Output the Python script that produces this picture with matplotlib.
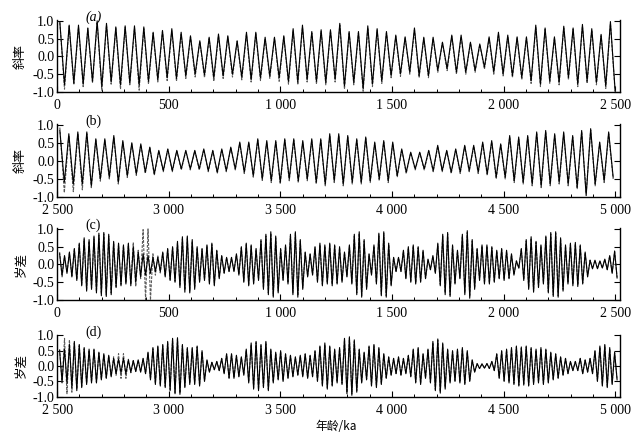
"""Obliquity / precession target vs. reconstructed curves, four stacked panels."""

import matplotlib
matplotlib.use("Agg")
import matplotlib.pyplot as plt
import numpy as np
from matplotlib.ticker import MultipleLocator

plt.rcParams["font.family"] = ["Liberation Serif", "DejaVu Serif"]
plt.rcParams["axes.unicode_minus"] = False

# ---- data: successive peaks / troughs ------------------------------------
# (a) obliquity, 0-2500 ka
obl_a_start, obl_a_step = 12.0, 41.8
obl_a_peak = [0.97, 0.88, 0.88, 0.80, 1.00, 0.93, 0.83, 0.86, 0.86, 0.83,
              0.68, 0.73, 0.78, 0.68, 0.58, 0.44, 0.54, 0.63, 0.58, 0.44,
              0.68, 0.68, 0.54, 0.54, 0.58, 0.78, 0.88,
              0.70, 0.75, 0.75, 0.93, 0.70, 0.70, 0.86, 0.78, 0.70, 0.60,
              0.55, 0.80, 0.54, 0.54, 0.40, 0.60, 0.60, 0.40, 0.35, 0.55,
              0.68, 0.60, 0.55, 0.55, 0.88, 0.80, 0.55, 0.85, 0.80, 0.90,
              0.78, 0.62, 0.98]
obl_a_trough = [-0.80, -0.75, -0.78, -0.70, -0.85, -0.72, -0.80, -0.75, -0.80, -0.70,
                -0.65, -0.60, -0.62, -0.55, -0.50, -0.52, -0.60, -0.55, -0.50, -0.58,
                -0.65, -0.60, -0.55, -0.60, -0.70, -0.72, -0.65,
                -0.70, -0.73, -0.64, -0.83, -0.73, -0.90, -0.78, -0.69, -0.54, -0.49,
                -0.44, -0.54, -0.54, -0.39, -0.34, -0.44, -0.44, -0.39, -0.30, -0.44,
                -0.49, -0.54, -0.59, -0.69, -0.78, -0.69, -0.73, -0.59, -0.78, -0.69,
                -0.73, -0.83, -0.95]
obl_a_peak_rec = [0.95, 0.85, 0.82, 0.78, 0.95, 0.88, 0.80, 0.82, 0.80, 0.78,
                  0.65, 0.70, 0.72, 0.62, 0.55, 0.42, 0.50, 0.58, 0.55, 0.42,
                  0.62, 0.64, 0.50, 0.52, 0.55, 0.72, 0.82,
                  0.66, 0.70, 0.72, 0.88, 0.68, 0.66, 0.80, 0.74, 0.66, 0.56,
                  0.52, 0.74, 0.50, 0.50, 0.38, 0.56, 0.55, 0.38, 0.33, 0.50,
                  0.62, 0.56, 0.52, 0.52, 0.82, 0.76, 0.52, 0.80, 0.76, 0.85,
                  0.74, 0.58, 0.92]
obl_a_trough_rec = [-0.92, -0.80, -0.85, -0.75, -0.95, -0.78, -0.92, -0.80, -0.95, -0.78,
                    -0.72, -0.68, -0.70, -0.62, -0.58, -0.60, -0.70, -0.62, -0.58, -0.66,
                    -0.72, -0.68, -0.62, -0.70, -0.78, -0.80, -0.72,
                    -0.78, -0.80, -0.72, -0.92, -0.80, -0.98, -0.85, -0.76, -0.60, -0.56,
                    -0.50, -0.60, -0.60, -0.45, -0.40, -0.50, -0.50, -0.45, -0.36, -0.50,
                    -0.55, -0.60, -0.66, -0.76, -0.85, -0.76, -0.80, -0.66, -0.85, -0.76,
                    -0.80, -0.90, -1.00]

# (b) obliquity, 2500-5000 ka
obl_b_start, obl_b_step = 2512.0, 40.3
obl_b_peak = [0.84, 0.75, 0.80, 0.80, 0.61, 0.61, 0.70, 0.56, 0.50, 0.47,
              0.38, 0.29, 0.33, 0.29, 0.29, 0.29, 0.33, 0.29, 0.33, 0.38,
              0.52, 0.52, 0.61, 0.56, 0.56, 0.61, 0.61, 0.56, 0.61, 0.61,
              0.75, 0.75, 0.70, 0.61, 0.66, 0.52, 0.56, 0.52, 0.33, 0.24,
              0.24, 0.29, 0.43, 0.29, 0.33, 0.43, 0.43, 0.52, 0.56, 0.47,
              0.70, 0.66, 0.70, 0.80, 0.84, 0.75, 0.80, 0.70, 0.84, 0.89,
              0.52, 0.80]
obl_b_trough = [-0.59, -0.64, -0.64, -0.69, -0.50, -0.45, -0.59, -0.41, -0.36, -0.31,
                -0.36, -0.27, -0.27, -0.22, -0.22, -0.22, -0.27, -0.31, -0.27, -0.22,
                -0.31, -0.41, -0.50, -0.55, -0.59, -0.50, -0.55, -0.50, -0.59, -0.64,
                -0.55, -0.64, -0.59, -0.59, -0.55, -0.50, -0.55, -0.41, -0.31, -0.22,
                -0.22, -0.27, -0.27, -0.31, -0.31, -0.27, -0.31, -0.36, -0.45, -0.45,
                -0.55, -0.59, -0.64, -0.69, -0.64, -0.59, -0.64, -0.73, -0.96, -0.64,
                -0.55, -0.45]
obl_b_peak_rec = [0.92, 0.70, 0.76, 0.75, 0.58, 0.56, 0.66, 0.52, 0.47, 0.44,
                  0.36, 0.27, 0.31, 0.27, 0.27, 0.27, 0.31, 0.27, 0.31, 0.35,
                  0.48, 0.49, 0.57, 0.52, 0.52, 0.57, 0.57, 0.52, 0.57, 0.57,
                  0.70, 0.70, 0.66, 0.57, 0.62, 0.48, 0.52, 0.48, 0.31, 0.22,
                  0.22, 0.27, 0.40, 0.27, 0.31, 0.40, 0.40, 0.48, 0.52, 0.44,
                  0.66, 0.62, 0.66, 0.75, 0.80, 0.70, 0.75, 0.66, 0.80, 0.85,
                  0.50, 0.75]
obl_b_trough_rec = [-0.88, -0.85, -0.80, -0.74, -0.56, -0.50, -0.64, -0.46, -0.40, -0.35,
                    -0.40, -0.30, -0.30, -0.25, -0.25, -0.25, -0.30, -0.35, -0.30, -0.25,
                    -0.35, -0.45, -0.54, -0.60, -0.64, -0.55, -0.60, -0.55, -0.64, -0.69,
                    -0.60, -0.69, -0.64, -0.64, -0.60, -0.55, -0.60, -0.45, -0.35, -0.25,
                    -0.25, -0.30, -0.30, -0.35, -0.35, -0.30, -0.35, -0.40, -0.50, -0.50,
                    -0.60, -0.64, -0.69, -0.74, -0.69, -0.64, -0.69, -0.78, -0.90, -0.69,
                    -0.60, -0.50]

# (c) precession, 0-2500 ka: amplitude of each successive cycle
prec_c_start, prec_c_step = 11.0, 22.0
prec_c_amp = [0.30, 0.25, 0.35, 0.45, 0.60, 0.75, 0.70, 0.80, 0.88, 0.90,
              0.85, 0.65, 0.60, 0.55, 0.60, 0.50, 0.35, 0.30, 0.25, 0.20,
              0.20, 0.35, 0.45, 0.50, 0.65, 0.78, 0.80, 0.70, 0.50, 0.45,
              0.55, 0.60, 0.40, 0.25, 0.20, 0.20, 0.30, 0.50, 0.60, 0.55,
              0.45, 0.70, 0.85, 0.92, 0.80, 0.45, 0.55, 0.85, 0.92, 0.70,
              0.35, 0.30, 0.50, 0.60, 0.55, 0.60, 0.55, 0.50, 0.35, 0.55,
              0.85, 0.92, 0.70, 0.30, 0.55, 0.88, 0.92, 0.60, 0.20, 0.20,
              0.40, 0.50, 0.55, 0.50, 0.40, 0.15, 0.25, 0.60, 0.85, 0.90,
              0.55, 0.40, 0.85, 0.95, 0.70, 0.45, 0.55, 0.55, 0.50, 0.40,
              0.45, 0.40, 0.30, 0.10, 0.45, 0.70, 0.78, 0.65, 0.55, 0.80,
              0.90, 0.92, 0.75, 0.55, 0.60, 0.62, 0.55, 0.35, 0.12, 0.12,
              0.10, 0.15, 0.25, 0.38]
prec_c_amp_rec = [0.35, 0.22, 0.32, 0.42, 0.56, 0.70, 0.66, 0.76, 0.82, 0.86,
                  0.80, 0.62, 0.56, 0.52, 0.56, 0.62, 0.40, 0.98, 1.00, 0.30,
                  0.24, 0.32, 0.42, 0.47, 0.60, 0.72, 0.75, 0.65, 0.47, 0.42,
                  0.52, 0.56, 0.38, 0.23, 0.19, 0.19, 0.28, 0.47, 0.56, 0.52,
                  0.42, 0.66, 0.80, 0.88, 0.75, 0.42, 0.52, 0.80, 0.88, 0.66,
                  0.33, 0.28, 0.47, 0.56, 0.52, 0.56, 0.52, 0.47, 0.33, 0.52,
                  0.80, 0.88, 0.66, 0.28, 0.52, 0.84, 0.88, 0.56, 0.19, 0.19,
                  0.38, 0.47, 0.52, 0.47, 0.38, 0.14, 0.23, 0.56, 0.80, 0.86,
                  0.52, 0.38, 0.80, 0.90, 0.66, 0.42, 0.52, 0.52, 0.47, 0.38,
                  0.42, 0.38, 0.28, 0.10, 0.42, 0.66, 0.74, 0.62, 0.52, 0.76,
                  0.86, 0.88, 0.70, 0.52, 0.56, 0.58, 0.52, 0.33, 0.12, 0.12,
                  0.10, 0.14, 0.24, 0.36]

# (d) precession, 2500-5000 ka
prec_d_start, prec_d_step = 2511.0, 22.0
prec_d_amp = [0.50, 0.55, 0.70, 0.80, 0.70, 0.60, 0.55, 0.55, 0.45, 0.40,
              0.35, 0.25, 0.22, 0.25, 0.20, 0.18, 0.20, 0.25, 0.45, 0.60,
              0.65, 0.70, 0.80, 0.90, 0.92, 0.70, 0.60, 0.60, 0.65, 0.50,
              0.20, 0.12, 0.15, 0.25, 0.40, 0.40, 0.35, 0.30, 0.55, 0.75,
              0.80, 0.70, 0.80, 0.55, 0.45, 0.50, 0.40, 0.35, 0.30, 0.35,
              0.40, 0.35, 0.50, 0.65, 0.75, 0.65, 0.55, 0.60, 0.90, 0.95,
              0.85, 0.55, 0.45, 0.65, 0.70, 0.60, 0.40, 0.30, 0.25, 0.30,
              0.25, 0.35, 0.55, 0.60, 0.40, 0.55, 0.80, 0.88, 0.75, 0.55,
              0.50, 0.55, 0.60, 0.50, 0.20, 0.08, 0.07, 0.08, 0.15, 0.40,
              0.50, 0.55, 0.60, 0.65, 0.62, 0.65, 0.60, 0.55, 0.60, 0.55,
              0.45, 0.40, 0.30, 0.25, 0.15, 0.15, 0.25, 0.20, 0.25, 0.50,
              0.65, 0.70, 0.60, 0.45]
prec_d_amp_rec = [0.55, 0.90, 0.85, 0.75, 0.66, 0.56, 0.52, 0.52, 0.42, 0.38,
                  0.33, 0.30, 0.40, 0.40, 0.22, 0.17, 0.19, 0.24, 0.42, 0.56,
                  0.62, 0.66, 0.76, 0.86, 0.88, 0.66, 0.56, 0.56, 0.62, 0.47,
                  0.19, 0.12, 0.14, 0.24, 0.38, 0.38, 0.33, 0.28, 0.52, 0.70,
                  0.76, 0.66, 0.76, 0.52, 0.42, 0.47, 0.38, 0.33, 0.28, 0.33,
                  0.38, 0.33, 0.47, 0.62, 0.70, 0.62, 0.52, 0.56, 0.86, 0.90,
                  0.80, 0.52, 0.42, 0.62, 0.66, 0.56, 0.38, 0.28, 0.24, 0.28,
                  0.24, 0.33, 0.52, 0.56, 0.38, 0.52, 0.76, 0.84, 0.70, 0.52,
                  0.47, 0.52, 0.56, 0.47, 0.19, 0.08, 0.07, 0.08, 0.14, 0.38,
                  0.47, 0.52, 0.56, 0.62, 0.58, 0.62, 0.56, 0.52, 0.56, 0.52,
                  0.42, 0.38, 0.28, 0.24, 0.14, 0.14, 0.24, 0.19, 0.24, 0.47,
                  0.62, 0.66, 0.56, 0.42]

panel_tags = ["(a)", "(b)", "(c)", "(d)"]
ylabels = ["斜率", "斜率", "岁差", "岁差"]
xranges = [(0, 2520), (2500, 5020), (0, 2520), (2500, 5020)]
xticks_low = [0, 500, 1000, 1500, 2000, 2500]
xticks_high = [2500, 3000, 3500, 4000, 4500, 5000]
xticklabels_low = ["0", "500", "1 000", "1 500", "2 000", "2 500"]
xticklabels_high = ["2 500", "3 000", "3 500", "4 000", "4 500", "5 000"]
yticks = [-1.0, -0.5, 0.0, 0.5, 1.0]
xlabel = "年龄/ka"


def zigzag(start, step, peaks, troughs):
    """Interleave successive peaks and troughs at half-cycle spacing."""
    vals = np.empty(2 * len(peaks))
    vals[0::2] = peaks
    vals[1::2] = troughs
    ages = start + 0.5 * step * np.arange(len(vals))
    return ages, vals


series = [
    (zigzag(obl_a_start, obl_a_step, obl_a_peak, obl_a_trough),
     zigzag(obl_a_start, obl_a_step, obl_a_peak_rec, obl_a_trough_rec)),
    (zigzag(obl_b_start, obl_b_step, obl_b_peak, obl_b_trough),
     zigzag(obl_b_start, obl_b_step, obl_b_peak_rec, obl_b_trough_rec)),
    (zigzag(prec_c_start, prec_c_step, prec_c_amp, -np.asarray(prec_c_amp)),
     zigzag(prec_c_start, prec_c_step, prec_c_amp_rec, -np.asarray(prec_c_amp_rec))),
    (zigzag(prec_d_start, prec_d_step, prec_d_amp, -np.asarray(prec_d_amp)),
     zigzag(prec_d_start, prec_d_step, prec_d_amp_rec, -np.asarray(prec_d_amp_rec))),
]

fig = plt.figure(figsize=(6.35, 4.38), dpi=100)
boxes = [
    (0.090, 0.790, 0.886, 0.164),
    (0.090, 0.550, 0.886, 0.167),
    (0.090, 0.315, 0.886, 0.164),
    (0.090, 0.094, 0.886, 0.142),
]

for i, box in enumerate(boxes):
    ax = fig.add_axes(box)
    (ta, tv), (ra, rv) = series[i]
    ax.plot(ra, rv, color="0.35", lw=0.8, dashes=(2.5, 1.2))
    ax.plot(ta, tv, color="black", lw=0.8)

    ax.set_xlim(*xranges[i])
    ax.set_ylim(-1.0, 1.02)
    ax.spines["top"].set_visible(False)
    for s in ("left", "right", "bottom"):
        ax.spines[s].set_linewidth(1.0)

    if i % 2 == 0:
        ax.set_xticks(xticks_low)
        ax.set_xticklabels(xticklabels_low)
    else:
        ax.set_xticks(xticks_high)
        ax.set_xticklabels(xticklabels_high)
    ax.xaxis.set_minor_locator(MultipleLocator(100))
    ax.set_yticks(yticks)
    ax.set_yticklabels([f"{v:.1f}" for v in yticks])
    ax.tick_params(axis="both", which="major", direction="in", length=4,
                   width=0.8, labelsize=10, right=True)
    ax.tick_params(axis="x", which="major", pad=5)
    ax.tick_params(axis="y", which="major", pad=2)
    ax.tick_params(axis="x", which="minor", direction="in", length=2, width=0.7)

    ax.set_ylabel(ylabels[i], family=["Noto Sans CJK SC", "DejaVu Sans"],
                  fontsize=9, labelpad=4)
    ax.text(0.05, 1.04, panel_tags[i], transform=ax.transAxes,
            fontsize=10, style="italic" if i == 0 else "normal",
            va="center", ha="left")

fig.text(0.53, 0.027, xlabel, family=["Noto Sans CJK SC", "DejaVu Sans"],
         fontsize=8.5, ha="center", va="center")

fig.savefig("out.png", dpi=100)
